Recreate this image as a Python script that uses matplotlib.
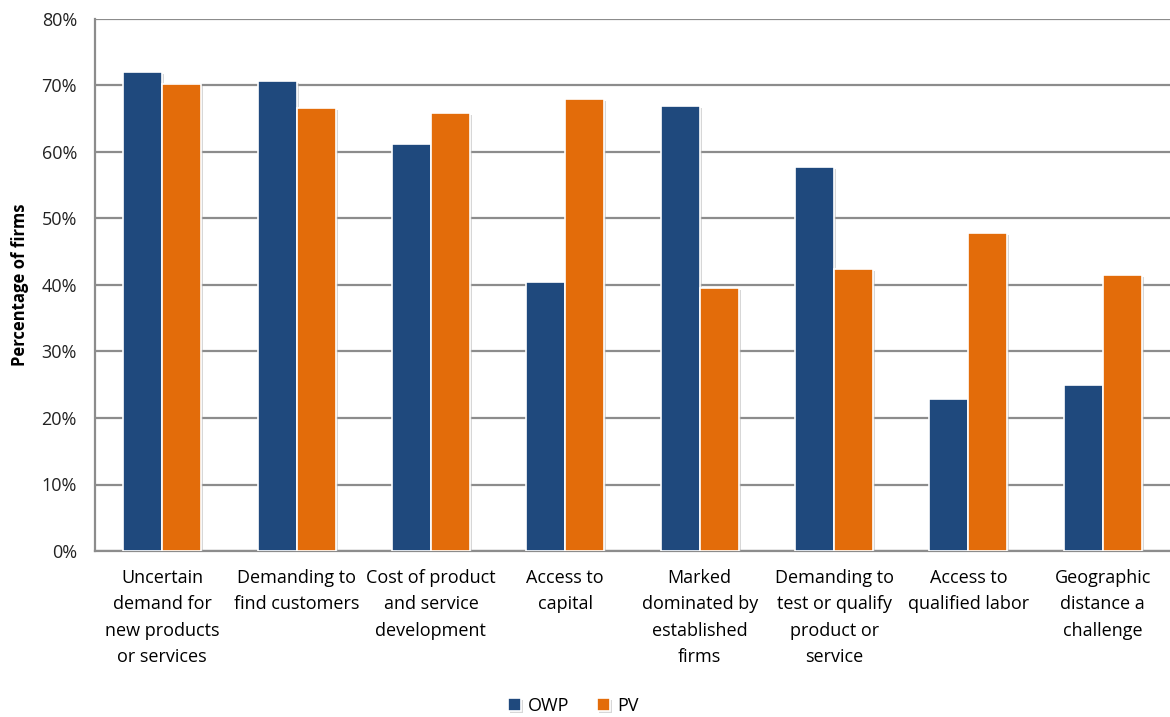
import matplotlib.pyplot as plt
import matplotlib.patheffects as pe
import numpy as np
from matplotlib.ticker import PercentFormatter

plt.rcParams['font.family'] = ['Open Sans', 'DejaVu Sans']

categories = [
    'Uncertain\ndemand for\nnew products\nor services',
    'Demanding to\nfind customers',
    'Cost of product\nand service\ndevelopment',
    'Access to\ncapital',
    'Marked\ndominated by\nestablished\nfirms',
    'Demanding to\ntest or qualify\nproduct or\nservice',
    'Access to\nqualified labor',
    'Geographic\ndistance a\nchallenge',
]
owp = [72.0, 70.7, 61.2, 40.5, 66.9, 57.7, 22.9, 25.0]
pv = [70.2, 66.6, 65.9, 68.0, 39.5, 42.4, 47.8, 41.5]

fig = plt.figure(figsize=(11.7, 7.17), dpi=100)
ax = fig.add_axes([95 / 1170, 1 - 551 / 717, 1 - 95 / 1170, (551 - 19) / 717])

x = np.arange(len(categories))
w = 0.29
shadow = [pe.SimplePatchShadow(offset=(1.5, -1.5), shadow_rgbFace='#b0b0b0', alpha=0.5), pe.Normal()]
b1 = ax.bar(x - w / 2, owp, w, color='#1F497D', edgecolor='white', linewidth=1.2,
            label='OWP', zorder=3)
b2 = ax.bar(x + w / 2, pv, w, color='#E36C0A', edgecolor='white', linewidth=1.2,
            label='PV', zorder=3)
for b in list(b1) + list(b2):
    b.set_path_effects(shadow)

ax.set_xlim(-0.5, len(categories) - 0.5)
ax.set_ylim(0, 80)
ax.set_yticks(range(0, 81, 10))
ax.yaxis.set_major_formatter(PercentFormatter(decimals=0))
ax.grid(axis='y', color='#8c8c8c', linewidth=1.6, zorder=0)
ax.set_axisbelow(True)

ax.set_xticks(x)
ax.set_xticklabels(categories, fontsize=13, linespacing=1.6, va='top')
ax.tick_params(axis='x', length=0, pad=13)
ax.tick_params(axis='y', length=0, labelsize=13, pad=13, labelcolor='#222222')

for side in ['top', 'right']:
    ax.spines[side].set_visible(False)
for side in ['left', 'bottom']:
    ax.spines[side].set_color('#8c8c8c')
    ax.spines[side].set_linewidth(1.6)

ax.set_ylabel('Percentage of firms', fontsize=12, fontweight='bold', labelpad=9)

fig.legend(handles=[b1, b2], labels=['OWP', 'PV'], loc='center', bbox_to_anchor=(0.49, 0.016),
           ncol=2, frameon=False, fontsize=13, handlelength=0.75, handleheight=0.75,
           handletextpad=0.4, columnspacing=1.5)

fig.savefig('out.png', dpi=100)
